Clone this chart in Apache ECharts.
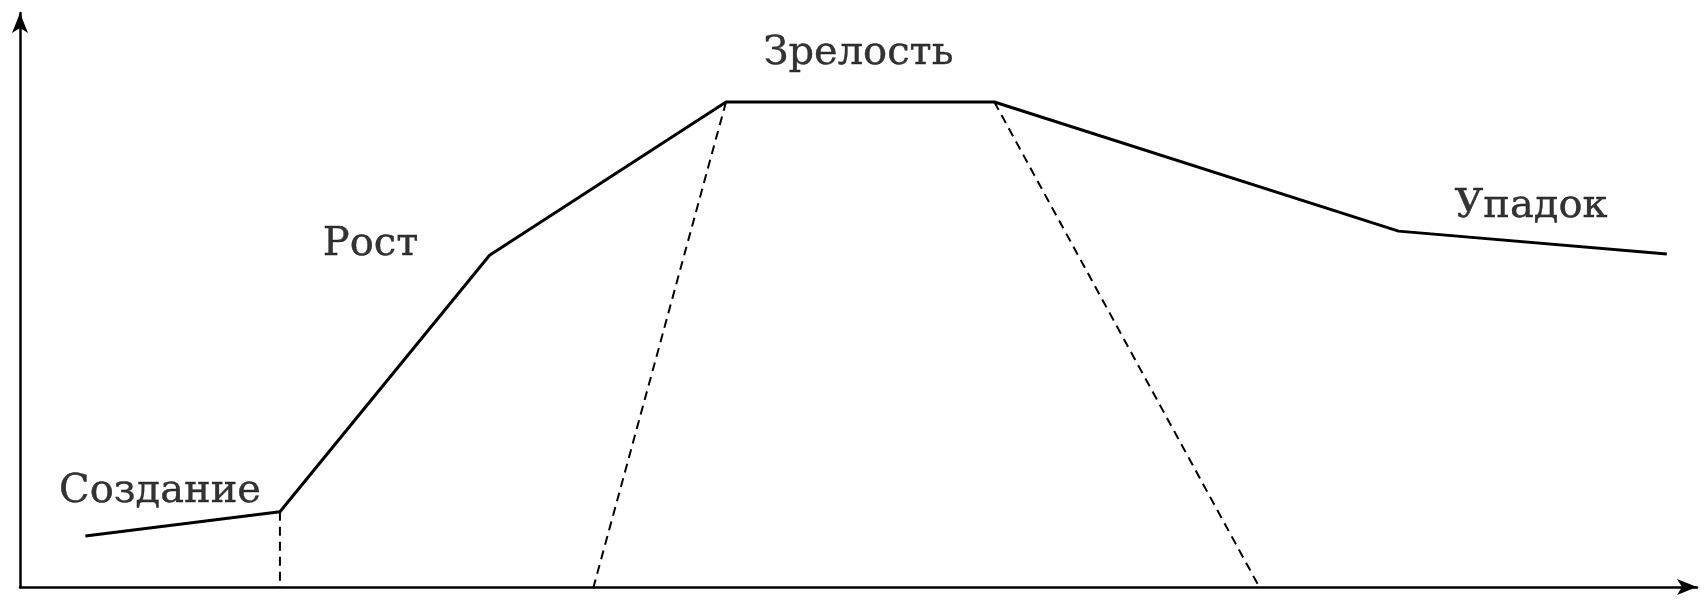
<!DOCTYPE html>
<html>
<head>
    <meta charset="utf-8">
    <title>Жизненный цикл</title>
    <script src="https://cdn.jsdelivr.net/npm/echarts@6/dist/echarts.min.js"></script>
    <style>
        html, body { margin: 0; padding: 0; background: #fff; }
    </style>
</head>
<body>
<div id="main" style="width: 1705px;height:600px;"></div>
<script type="text/javascript">
    // основная кривая жизненного цикла
    var curve = [[3.9, 8.9], [15.5, 13.1], [28.0, 57.8], [42.1, 84.5], [58.1, 84.5], [82.2, 62.0], [98.2, 58.0]];
    // пунктирные линии-границы стадий
    var dash1 = [[15.5, 13.1], [15.5, 0]];
    var dash2 = [[42.1, 84.5], [34.2, 0]];
    var dash3 = [[58.1, 84.5], [73.9, 0]];
    // подписи стадий
    var stageNames = ['Создание', 'Рост', 'Зрелость', 'Упадок'];
    var stagePos = [[8.35, 16.6], [20.9, 59.6], [50.0, 93.0], [90.1, 66.2]];

    var myChart = echarts.init(document.getElementById('main'));

    var labelData = stageNames.map(function (n, i) {
        return { name: n, value: stagePos[i] };
    });

    function dashed(data) {
        return {
            type: 'line',
            data: data,
            symbol: 'none',
            silent: true,
            lineStyle: { color: '#000', width: 2, type: [9, 6] }
        };
    }

    var option = {
        animation: false,
        backgroundColor: '#fff',
        grid: { left: 20, right: 8, top: 13, bottom: 13 },
        xAxis: {
            type: 'value', min: 0, max: 100,
            axisLine: { show: true, symbol: ['none', 'arrow'], symbolSize: [12, 20], lineStyle: { color: '#000', width: 2.5 } },
            axisTick: { show: false },
            axisLabel: { show: false },
            splitLine: { show: false }
        },
        yAxis: {
            type: 'value', min: 0, max: 100,
            axisLine: { show: true, symbol: ['none', 'arrow'], symbolSize: [12, 20], lineStyle: { color: '#000', width: 2.5 } },
            axisTick: { show: false },
            axisLabel: { show: false },
            splitLine: { show: false }
        },
        series: [
            {
                type: 'line',
                data: curve,
                symbol: 'none',
                silent: true,
                lineStyle: { color: '#000', width: 3 }
            },
            dashed(dash1),
            dashed(dash2),
            dashed(dash3),
            {
                type: 'scatter',
                data: labelData,
                symbolSize: 0,
                silent: true,
                label: {
                    show: true,
                    position: 'inside',
                    formatter: '{b}',
                    color: '#000',
                    textBorderColor: '#000',
                    textBorderWidth: 0.4,
                    fontFamily: 'DejaVu Serif',
                    fontSize: 40
                }
            }
        ]
    };

    myChart.setOption(option);
</script>
</body>
</html>
